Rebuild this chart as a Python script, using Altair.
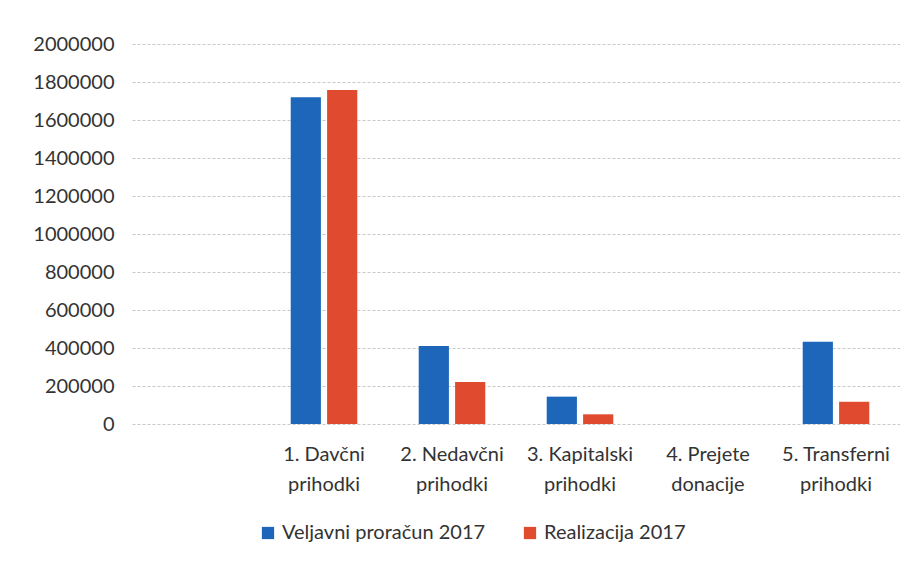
import altair as alt
import pandas as pd

categories = [" ", "1. Davčni|prihodki", "2. Nedavčni|prihodki", "3. Kapitalski|prihodki",
              "4. Prejete|donacije", "5. Transferni|prihodki"]
series = ["Veljavni proračun 2017", "Realizacija 2017"]
veljavni = [None, 1720000, 410000, 144000, 0, 433000]
realizacija = [None, 1758000, 221000, 51000, 0, 117000]
colors = ["#1d66ba", "#e04a2e"]

rows = []
for c, v, r in zip(categories, veljavni, realizacija):
    if v is not None:
        rows.append({"kat": c, "serija": series[0], "vrednost": v})
        rows.append({"kat": c, "serija": series[1], "vrednost": r})
df = pd.DataFrame(rows)

font = "Lato"

chart = alt.Chart(df).mark_bar().encode(
    x=alt.X("kat:N", sort=categories,
            scale=alt.Scale(domain=categories, paddingInner=0.48, paddingOuter=0.24),
            axis=alt.Axis(title=None, labelAngle=0, labelExpr="split(datum.label, '|')",
                          labelFont=font, labelFontSize=20, labelColor="#333333",
                          labelLineHeight=30, labelPadding=20, domain=False, ticks=False,
                          labelBaseline="top")),
    xOffset=alt.XOffset("serija:N", sort=series,
                        scale=alt.Scale(paddingInner=0.17, paddingOuter=0)),
    y=alt.Y("vrednost:Q",
            scale=alt.Scale(domain=[0, 2000000], nice=False),
            axis=alt.Axis(title=None, values=list(range(0, 2000001, 200000)), format="d",
                          labelFont=font, labelFontSize=20, labelColor="#333333",
                          labelPadding=18, domain=False, ticks=False,
                          gridColor="#c8c8c8", gridWidth=1, gridDash=[3, 2])),
    color=alt.Color("serija:N", sort=series,
                    scale=alt.Scale(domain=series, range=colors),
                    legend=alt.Legend(title=None, orient="none", direction="horizontal",
                                      legendX=126, legendY=479, symbolType="square",
                                      symbolSize=150, symbolStrokeWidth=0, labelLimit=0,
                                      labelFont=font, labelFontSize=20, labelColor="#333333",
                                      columnPadding=34, labelOffset=4)),
).properties(width=768, height=380, background="white",
             padding={"left": 24, "top": 26, "right": 0, "bottom": 5}
).configure_view(stroke=None)

chart.save("out.html", embed_options={"renderer": "svg", "actions": False})
